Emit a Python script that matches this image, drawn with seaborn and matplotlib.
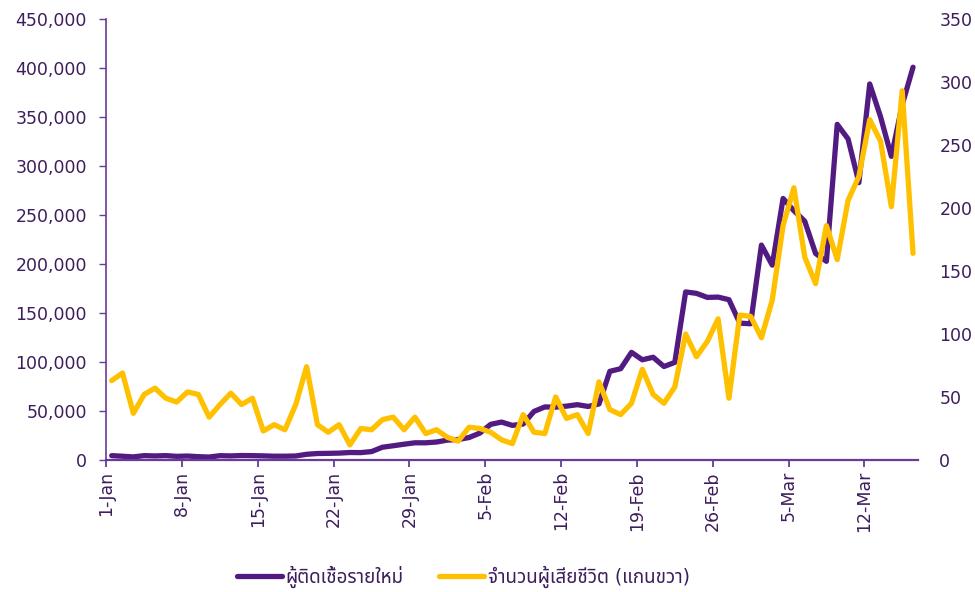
import numpy as np
import pandas as pd
import matplotlib
matplotlib.use("Agg")
import matplotlib.pyplot as plt
import seaborn as sns
from matplotlib.ticker import FuncFormatter

# daily data, 1 Jan - 16 Mar
new_cases = [4416, 3833, 3129, 4443, 4126, 4444, 3716, 4025, 3376, 3005,
             4388, 4167, 4542, 4422, 4194, 3858, 3857, 4071, 5805, 6603,
             6769, 7009, 7630, 7513, 8571, 13012, 14518, 16096, 17542, 17528,
             18342, 20270, 20908, 22907, 27443, 36362, 38691, 35286, 36719, 49567,
             54122, 53926, 54941, 56431, 54619, 57177, 90443, 93135, 109831, 102211,
             104829, 95362, 99573, 171452, 170016, 165890, 166209, 163565, 139626, 138993,
             219241, 198803, 266853, 254327, 243628, 210716, 202721, 342446, 327549, 282987,
             383665, 350190, 309790, 362338, 400741]
deaths = [63, 69, 37, 52, 57, 49, 46, 54, 52, 34,
          44, 53, 44, 49, 23, 28, 24, 44, 74, 28,
          22, 28, 12, 25, 24, 32, 34, 24, 34, 21,
          24, 18, 15, 26, 25, 22, 16, 13, 36, 22,
          21, 50, 33, 36, 21, 62, 40, 36, 45, 72,
          52, 45, 58, 100, 82, 94, 112, 49, 115, 114,
          97, 127, 186, 216, 161, 140, 186, 159, 206, 225,
          270, 253, 201, 293, 164]
tick_labels = ['1-Jan', '8-Jan', '15-Jan', '22-Jan', '29-Jan', '5-Feb',
               '12-Feb', '19-Feb', '26-Feb', '5-Mar', '12-Mar']
label_cases = 'ผู้ติดเชื้อรายใหม่'
label_deaths = 'จำนวนผู้เสียชีวิต (แกนขวา)'

df = pd.DataFrame({'day': np.arange(len(new_cases)),
                   'cases': new_cases, 'deaths': deaths})

purple = '#521b82'
gold = '#ffc000'
txt = '#3d1d5c'

sns.set_style('white')
plt.rcParams['font.family'] = ['DejaVu Sans', 'Noto Sans Thai']
plt.rcParams['font.size'] = 12.5

fig = plt.figure(figsize=(9.75, 5.92), dpi=100)
ax = fig.add_axes([0.109, 0.223, 0.833, 0.745])
ax2 = ax.twinx()

sns.lineplot(data=df, x='day', y='cases', ax=ax, color=purple, lw=3.8,
             label=label_cases, legend=False)
sns.lineplot(data=df, x='day', y='deaths', ax=ax2, color=gold, lw=3.8,
             label=label_deaths, legend=False)

ax.set_xlim(-0.5, len(new_cases) - 0.5)
ax.set_ylim(0, 450000)
ax2.set_ylim(0, 350)
ax.set_yticks(np.arange(0, 450001, 50000))
ax2.set_yticks(np.arange(0, 351, 50))
ax.yaxis.set_major_formatter(FuncFormatter(lambda v, p: f'{int(v):,}'))
ax.set_xticks(np.arange(len(tick_labels)) * 7 - 0.5)
ax.set_xticklabels(tick_labels, rotation=90)
ax.set_xlabel('')
ax.set_ylabel('')
ax2.set_ylabel('')

for s in ['top', 'right']:
    ax.spines[s].set_visible(False)
for s in ['top', 'right', 'left', 'bottom']:
    ax2.spines[s].set_visible(False)
ax.spines['left'].set_color('#6a3a9a')
ax.spines['bottom'].set_color('#6a3a9a')
ax.spines['left'].set_linewidth(1.2)
ax.spines['bottom'].set_linewidth(1.6)

ax.tick_params(axis='y', left=True, direction='out', length=5, width=1,
               color='#6a3a9a', labelcolor=txt, labelsize=12.5, pad=9)
ax.tick_params(axis='x', bottom=True, direction='out', length=5, width=1.3,
               color='#6a3a9a', labelcolor=txt, labelsize=12.5, pad=3)
ax2.tick_params(axis='y', right=False, length=0, labelcolor=txt,
                labelsize=12.5, pad=15)

h1, l1 = ax.get_legend_handles_labels()
h2, l2 = ax2.get_legend_handles_labels()
fig.legend(h1 + h2, l1 + l2, loc='lower center', bbox_to_anchor=(0.475, -0.022),
           ncol=2, frameon=False, handlelength=2.4, handletextpad=0.2,
           columnspacing=1.9, labelcolor=txt, fontsize=13.5)

fig.savefig('out.png', dpi=100)
